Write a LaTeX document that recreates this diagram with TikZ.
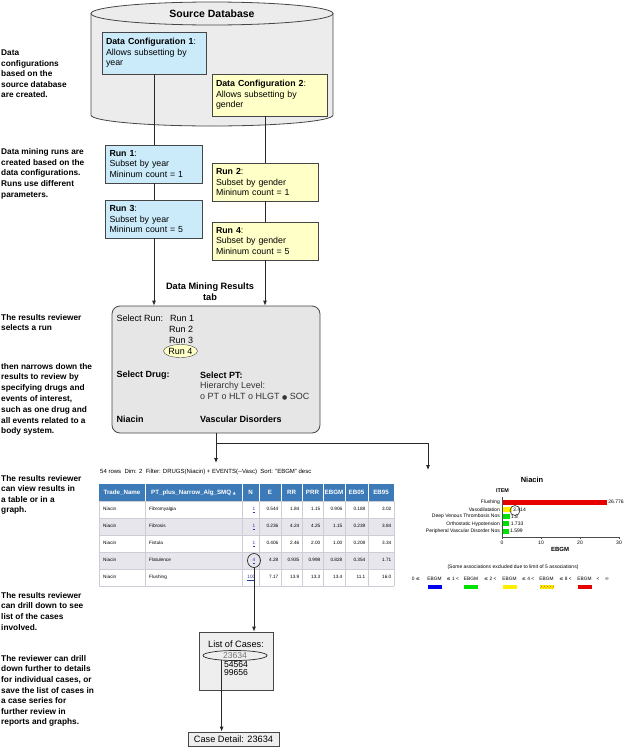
\documentclass[tikz,border=0pt]{standalone}
\usepackage{fontspec}
\setmainfont{Liberation Sans}
\newfontfamily\dejavu{DejaVu Sans}
\usetikzlibrary{arrows.meta,patterns,shapes.geometric,calc}
\definecolor{dbgray}{RGB}{236,236,236}
\definecolor{cfgblue}{RGB}{204,235,250}
\definecolor{cfgyellow}{RGB}{255,255,200}
\definecolor{resgray}{RGB}{230,230,230}
\definecolor{casegray}{RGB}{238,238,238}
\definecolor{linec}{RGB}{40,40,40}
\definecolor{boxline}{RGB}{70,70,70}
\definecolor{hdrblue}{RGB}{60,122,184}
\definecolor{rowalt}{RGB}{230,230,236}
\definecolor{gridc}{RGB}{205,205,215}
\definecolor{linkblue}{RGB}{40,60,160}
\definecolor{barred}{RGB}{230,0,0}
\definecolor{bargreen}{RGB}{0,225,0}
\definecolor{baryellow}{RGB}{255,240,0}
\definecolor{barblue}{RGB}{0,0,240}
\newcommand\myfs[2]{\fontsize{#1}{#2}\selectfont}
\begin{document}
\begin{tikzpicture}[x=1pt,y=-1pt,
  note/.style={anchor=north west, inner sep=0pt, align=left, font=\myfs{8.3}{10.6}\bfseries},
  cfg/.style={draw=boxline, line width=0.7pt, inner xsep=4pt, inner ysep=2pt, align=left, font=\myfs{8.8}{10.6}},
  bluecfg/.style={cfg, fill=cfgblue},
  yelcfg/.style={cfg, fill=cfgyellow},
  conn/.style={draw=linec, line width=0.8pt},
  arr/.style={conn, -{Latex[length=5pt,width=4pt]}},
  restxt/.style={anchor=west, inner sep=0pt, font=\myfs{9}{10}},
  hdr/.style={inner sep=0pt, text=white, font=\myfs{6.2}{7}\bfseries},
  cell/.style={inner sep=0pt, text height=3.4pt, text depth=1pt, font=\myfs{4.7}{5}},
  glab/.style={inner sep=0pt, font=\myfs{5}{6}},
  bar/.style={anchor=west, inner sep=0pt, minimum height=5pt},
  legbox/.style={inner sep=0pt, minimum width=15pt, minimum height=5pt, draw=white}
]
\useasboundingbox (0,0) rectangle (624,747);

% ---- source database cylinder
\fill[dbgray] (91,13) -- (91,115) .. controls (91,121.1) and (145.2,126) .. (212,126)
  .. controls (278.8,126) and (333,121.1) .. (333,115) -- (333,13) -- cycle;
\draw[boxline, line width=0.8pt] (91,13) -- (91,115) .. controls (91,121.1) and (145.2,126) .. (212,126)
  .. controls (278.8,126) and (333,121.1) .. (333,115) -- (333,13);
\draw[boxline, line width=0.8pt, fill=dbgray] (212,13.5) ellipse [x radius=121pt, y radius=11.5pt];
\node[font=\myfs{10.5}{12}\bfseries] (db) at (212,14) {Source Database};

% ---- configurations and runs
\node[bluecfg, text width=96pt, minimum height=42pt] (dc1) at (154,53)
  {\textbf{Data Configuration 1}:\\Allows subsetting by\\year};
\node[yelcfg, text width=107pt, minimum height=42pt] (dc2) at (269.5,95)
  {\textbf{Data Configuration 2}:\\Allows subsetting by\\gender};
\node[bluecfg, text width=89pt, minimum height=38pt] (run1) at (154,164)
  {\textbf{Run 1}:\\Subset by year\\Mininum count = 1};
\node[bluecfg, text width=89pt, minimum height=38pt] (run3) at (154,219)
  {\textbf{Run 3}:\\Subset by year\\Mininum count = 5};
\node[yelcfg, text width=98pt, minimum height=38pt] (run2) at (265,182)
  {\textbf{Run 2}:\\Subset by gender\\Mininum count = 1};
\node[yelcfg, text width=98pt, minimum height=38pt] (run4) at (265,241)
  {\textbf{Run 4}:\\Subset by gender\\Mininum count = 5};

% ---- results tab
\node[align=center, inner sep=0pt, font=\myfs{9.2}{11}\bfseries] (restab) at (210,291.5) {Data Mining Results\\tab};
\node[draw=boxline, line width=0.8pt, fill=resgray, rounded corners=8pt, minimum width=208pt, minimum height=127pt] (res) at (216,369.5) {};
\node[restxt] (selrun) at (116.5,318) {Select Run:};
\node[restxt] (r1) at (170,318) {Run 1};
\node[restxt] (r2) at (169,329) {Run 2};
\node[restxt] (r3) at (169,340) {Run 3};
\node[ellipse, draw=boxline, fill=cfgyellow, inner sep=0pt, minimum width=33pt, minimum height=13pt, font=\myfs{9}{10}] (r4) at (180.5,351) {Run 4};
\node[restxt, font=\myfs{9}{10}\bfseries] (seldrug) at (116.5,375) {Select Drug:};
\node[restxt, font=\myfs{9}{10}\bfseries] (selpt) at (200,375) {Select PT:};
\node[restxt, text=black!80] (hier) at (200,386) {Hierarchy Level:};
\node[restxt, text=black!80] (levels) at (200,397) {o PT o HLT o HLGT {\dejavu\myfs{6}{6}●} SOC};
\node[restxt, font=\myfs{9}{10}\bfseries] (drug) at (116.5,419) {Niacin};
\node[restxt, font=\myfs{9}{10}\bfseries] (socv) at (200,419) {Vascular Disorders};

% ---- connectors top part
\draw[conn] (dc1.south) -- (run1.north);
\draw[conn] (run1.south) -- (run3.north);
\draw[arr] (run3.south) -- (run3.south |- res.north);
\draw[conn] (dc2.south -| run2.north) -- (run2.north);
\draw[conn] (run2.south) -- (run4.north);
\draw[arr] (run4.south) -- (run4.south |- res.north);

\coordinate (j) at (216,443);
\coordinate (tabtop) at (216,463);
\coordinate (gtop) at (428,470);
\draw[conn] (res.south) -- (j);
\draw[arr] (j) -- (tabtop);
\draw[arr] (j) -| (gtop);

% ---- table
\node[anchor=west, inner sep=0pt, font=\myfs{6}{7}] (filt) at (100,472)
  {54 rows\ \ Dim: 2\ \ Filter: DRUGS(Niacin) + EVENTS(-{}-Vasc)\ \ Sort: "EBGM" desc};
\fill[hdrblue] (99,484) rectangle (394,501);
\fill[rowalt] (99,518) rectangle (394,535);
\fill[rowalt] (99,552) rectangle (394,569);
\foreach \yy in {501,518,535,552,569,586} \draw[gridc, line width=0.5pt] (99,\yy) -- (394,\yy);
\foreach \xx in {145,242,259,281,302,323,345,368} {
  \draw[white, line width=0.5pt] (\xx,484) -- (\xx,501);
  \draw[gridc, line width=0.5pt] (\xx,501) -- (\xx,586);
}
\draw[gridc, line width=0.5pt] (99,501) -- (99,586);
\draw[gridc, line width=0.5pt] (394,501) -- (394,586);
\foreach \xa/\xb/\tt [count=\i] in {99/145/Trade\_Name, 145/242/{PT\_plus\_Narrow\_Alg\_SMQ {\dejavu\myfs{3.8}{4}▲}},
   242/259/N, 259/281/E, 281/302/RR, 302/323/PRR, 323/345/EBGM, 345/368/EB05, 368/394/EB95}
  \node[hdr] (h\i) at ({(\xa+\xb)/2},492.5) {\tt};
\foreach \yc/\ptn/\nv/\ev/\rr/\prr/\eb/\ebl/\ebh [count=\k] in {
  509.5/Fibromyalgia/1/0.544/1.84/1.15/0.906/0.188/3.02,
  526.5/Fibrosis/1/0.236/4.24/4.25/1.15/0.239/3.84,
  543.5/Fistula/1/0.406/2.46/2.00/1.00/0.208/3.34,
  560.5/Flatulence/4/4.28/0.935/0.998/0.828/0.354/1.71,
  577.5/Flushing/100/7.17/13.9/13.3/13.4/11.1/16.0}
{
  \node[cell, anchor=west] (tn\k) at (103,\yc) {Niacin};
  \node[cell, anchor=west] (pt\k) at (149,\yc) {\ptn};
  \node[cell, anchor=east, text=linkblue] (n\k) at (255.5,\yc) {\underline{\nv}};
  \node[cell, anchor=east] (e\k) at (278.5,\yc) {\ev};
  \node[cell, anchor=east] (rr\k) at (299.5,\yc) {\rr};
  \node[cell, anchor=east] (prr\k) at (320.5,\yc) {\prr};
  \node[cell, anchor=east] (eb\k) at (342.5,\yc) {\eb};
  \node[cell, anchor=east] (ebl\k) at (365.5,\yc) {\ebl};
  \node[cell, anchor=east] (ebh\k) at (391.5,\yc) {\ebh};
}
\node[ellipse, draw=linec, line width=0.7pt, minimum width=13pt, minimum height=14pt, inner sep=0pt] (c4) at (n4.center) {};

% ---- graph
\node[inner sep=0pt, font=\myfs{7.5}{8}\bfseries] (gtitle) at (532,480) {Niacin};
\node[inner sep=0pt, font=\myfs{5.4}{6}\bfseries] (item) at (502.5,491) {ITEM};
\draw[black!70, line width=0.5pt] (502,497) -- (502,537) -- (620,537);
\foreach \tx/\tl [count=\i] in {502/0, 541/10, 580/20, 619/30} {
  \draw[black!70, line width=0.5pt] (\tx,537) -- (\tx,539);
  \node[glab] (ax\i) at (\tx,543) {\tl};
}
\node[inner sep=0pt, font=\myfs{6}{6}\bfseries] (ebgmax) at (560,549.5) {EBGM};
\foreach \yb/\cat/\len/\col/\val [count=\i] in {
  502/Flushing/104.4/barred/26.776,
  509.3/Vasodilatation/9.4/baryellow/2.414,
  516.6/Deep Venous Thrombosis Nos/7/bargreen/1.8,
  523.9/Orthostatic Hypotension/6.8/bargreen/1.733,
  531.2/Peripheral Vascular Disorder Nos/6.2/bargreen/1.599}
{
  \node[glab, anchor=east] (cat\i) at (500,\yb) {\cat};
  \node[bar, fill=\col, minimum width=\len pt] (bar\i) at (502.4,\yb) {};
  \node[glab, anchor=west] (val\i) at ([xshift=1pt]bar\i.east) {\val};
}
\node[circle, draw=linec, line width=0.6pt, minimum size=10pt, inner sep=0pt] (gc) at (515,510.5) {};
\node[glab] (excl) at (513,567) {(Some associations excluded due to limit of 5 associations)};
% legend
\node[glab, font=\myfs{4.8}{5}] (lg0) at (416,579) {0 {\dejavu ≤}};
\foreach \cx/\col [count=\i] in {434.5/barblue, 471/bargreen, 509.5/baryellow, 546.5/baryellow, 584.5/barred} {
  \node[glab, font=\myfs{4.8}{5}] (lw\i) at (\cx,579) {EBGM};
  \node[legbox, fill=\col] (lb\i) at (\cx,587) {};
}
\node[legbox, pattern=crosshatch dots, pattern color=orange!70!black] (lbp) at (546.5,587) {};
\foreach \mx/\nm [count=\i] in {452.75/1, 490.25/2, 528/4, 565.5/8}
  \node[glab, font=\myfs{4.8}{5}] (lm\i) at (\mx,579) {{\dejavu ≤} \nm\ <};
\node[glab, font=\myfs{4.8}{5}] (lend) at (598,579) {<};
\node[glab, font=\myfs{5}{5}] (linf) at (607,579) {{\dejavu ∞}};

% ---- list of cases
\node[draw=boxline, line width=0.8pt, fill=casegray, minimum width=74pt, minimum height=58pt] (loc) at (236,661) {};
\node[inner sep=0pt, font=\myfs{9.2}{10}] (lochead) at (236,644.3) {List of Cases:};
\node[ellipse, draw=linec, line width=0.7pt, minimum width=64pt, minimum height=10pt, inner sep=0pt, text=black!55, font=\myfs{8.6}{9}] (e23) at (235,655.5) {23634};
\node[inner sep=0pt, font=\myfs{8.6}{9}] (c54) at (236,664.5) {54564};
\node[inner sep=0pt, font=\myfs{8.6}{9}] (c99) at (236,673) {99656};
\node[draw=boxline, line width=0.8pt, fill=casegray, minimum width=91pt, minimum height=14pt, inner sep=0pt, font=\myfs{9.2}{10}] (cd) at (233.5,739) {Case Detail: 23634};
\draw[arr] (c4.south) -- (c4.south |- loc.north);
\draw[arr] (e23.200) -- (e23.200 |- cd.north);

% ---- side notes
\node[note] (t1) at (1,49.5) {Data\\configurations\\based on the\\source database\\are created.};
\node[note] (t2) at (1,148.5) {Data mining runs are\\created based on the\\data configurations.\\Runs use different\\parameters.};
\node[note] (t3) at (1,314) {The results reviewer\\selects a run};
\node[note, font=\myfs{8.3}{10.8}\bfseries] (t4) at (1,362.8) {then narrows down the\\results to review by\\specifying drugs and\\events of interest,\\such as one drug and\\all events related to a\\body system.};
\node[note] (t5) at (1,474.8) {The results reviewer\\can view results in\\a table or in a\\graph.};
\node[note] (t6) at (1,592) {The results reviewer\\can drill down to see\\list of the cases\\involved.};
\node[note] (t7) at (1,655) {The reviewer can drill\\down further to details\\for individual cases, or\\save the list of cases in\\a case series for\\further review in\\reports and graphs.};
\end{tikzpicture}
\end{document}
